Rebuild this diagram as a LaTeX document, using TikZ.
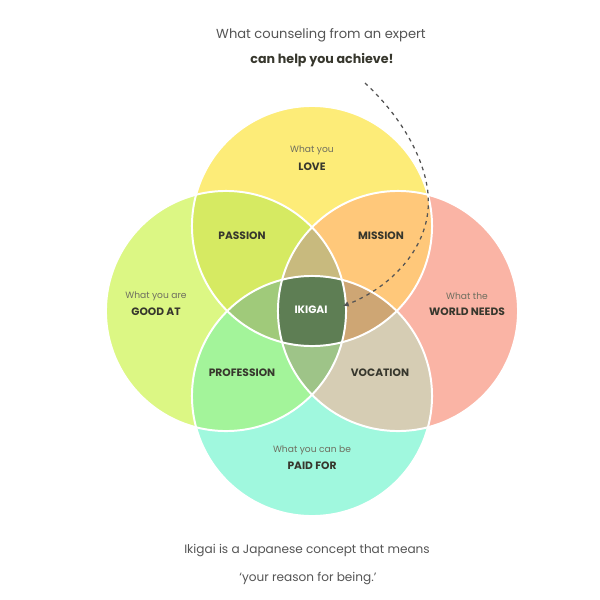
\documentclass[tikz,border=0pt]{standalone}
\usepackage{fontspec}
\setmainfont{Poppins}
\usetikzlibrary{arrows.meta}
\definecolor{cLove}{RGB}{253,236,120}
\definecolor{cGood}{RGB}{220,247,132}
\definecolor{cWorld}{RGB}{250,180,165}
\definecolor{cPaid}{RGB}{160,248,222}
\definecolor{cPassion}{RGB}{214,234,98}
\definecolor{cMission}{RGB}{255,200,122}
\definecolor{cProfession}{RGB}{163,244,154}
\definecolor{cVocation}{RGB}{214,205,180}
\definecolor{cUp}{RGB}{200,186,126}
\definecolor{cLeftT}{RGB}{160,202,122}
\definecolor{cRightT}{RGB}{206,166,116}
\definecolor{cLowT}{RGB}{158,196,136}
\definecolor{cIkigai}{RGB}{94,126,84}
\definecolor{subgrey}{RGB}{110,110,95}
\definecolor{labdark}{RGB}{55,55,45}
\definecolor{txtgrey}{RGB}{85,85,85}
\def\circT{(312,226) circle[radius=3cm]}
\def\circL{(226,311) circle[radius=3cm]}
\def\circR{(398,311) circle[radius=3cm]}
\def\circB{(312,396) circle[radius=3cm]}
\tikzset{
  sublab/.style={font=\fontsize{6.5}{7.5}\selectfont, text=subgrey},
  mainlab/.style={font=\bfseries\fontsize{7.6}{9}\selectfont, text=labdark},
  toptext/.style={font=\fontsize{9.3}{11}\selectfont, text=txtgrey},
  botline/.style={draw=white, line width=1.4pt},
  pointer/.style={draw=txtgrey, line width=0.9pt, dash pattern=on 2.6pt off 3pt, -{Latex[length=4pt,width=4pt]}}
}
\begin{document}
\begin{tikzpicture}[x=0.025cm,y=-0.025cm]
\useasboundingbox (0,0) rectangle (600,600);
\fill[white] (0,0) rectangle (600,600);
% base circles
\fill[cLove] \circT;
\fill[cGood] \circL;
\fill[cWorld] \circR;
\fill[cPaid] \circB;
% pairwise
\begin{scope}\clip \circT; \fill[cPassion] \circL; \fill[cMission] \circR; \end{scope}
\begin{scope}\clip \circB; \fill[cProfession] \circL; \fill[cVocation] \circR; \end{scope}
% triples
\begin{scope}\clip \circT; \clip \circL; \fill[cUp] \circR; \fill[cLeftT] \circB; \end{scope}
\begin{scope}\clip \circB; \clip \circR; \fill[cLowT] \circL; \fill[cRightT] \circT; \end{scope}
% center
\begin{scope}\clip \circT; \clip \circL; \clip \circR; \fill[cIkigai] \circB; \end{scope}
% white outlines
\draw[botline] \circT;
\draw[botline] \circL;
\draw[botline] \circR;
\draw[botline] \circB;
% labels
\node[sublab] (loveq) at (312,150) {What you};
\node[mainlab] (love) at (312,167) {LOVE};
\node[sublab] (goodq) at (156,296) {What you are};
\node[mainlab] (good) at (156,312) {GOOD AT};
\node[sublab] (worldq) at (467,296) {What the};
\node[mainlab] (world) at (467,312) {WORLD NEEDS};
\node[sublab] (paidq) at (312,450) {What you can be};
\node[mainlab] (paid) at (312,466) {PAID FOR};
\node[mainlab] (passion) at (242,236) {PASSION};
\node[mainlab] (mission) at (381,236) {MISSION};
\node[mainlab] (profession) at (242,373) {PROFESSION};
\node[mainlab] (vocation) at (380,373) {VOCATION};
\node[mainlab, text=white] (ikigai) at (311,310) {IKIGAI};
% top and bottom texts
\node[toptext] (top1) at (321,35) {What counseling from an expert};
\node[toptext, font=\bfseries\fontsize{9}{11}\selectfont, text=labdark] (top2) at (322,60) {can help you achieve!};
\node[toptext, font=\fontsize{8.6}{10}\selectfont] (bot1) at (307,551) {Ikigai is a Japanese concept that means};
\node[toptext, font=\fontsize{8.6}{10}\selectfont] (bot2) at (308,579) {`your reason for being.'};
% dashed pointer
\coordinate (pstart) at (365,83);
\coordinate (pmid) at (428,210);
\coordinate (ikigaiR) at (343,306);
\draw[pointer] (pstart) .. controls (405,120) and (432,170) .. (pmid) .. controls (424,255) and (385,290) .. (ikigaiR);
\end{tikzpicture}
\end{document}
